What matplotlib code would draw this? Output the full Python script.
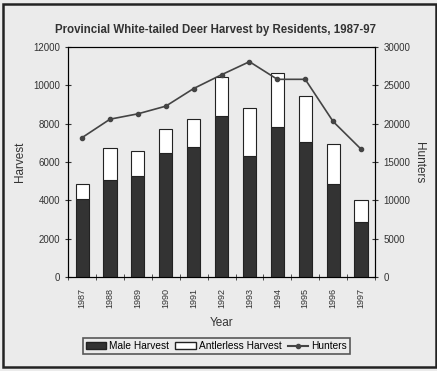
import numpy as np
import matplotlib
matplotlib.use('Agg')
import matplotlib.pyplot as plt
from matplotlib.patches import Rectangle
from matplotlib.lines import Line2D

years = ['1987', '1988', '1989', '1990', '1991', '1992', '1993', '1994', '1995', '1996', '1997']
male = [4070, 5060, 5290, 6470, 6800, 8420, 6310, 7840, 7040, 4870, 2890]
total = [4850, 6730, 6570, 7740, 8230, 10450, 8830, 10660, 9440, 6940, 4050]
hunters = [18200, 20600, 21300, 22300, 24600, 26400, 28100, 25800, 25800, 20300, 16700]
antlerless = [t - m for t, m in zip(total, male)]

plt.rcParams['font.family'] = ['Liberation Sans', 'DejaVu Sans']

fig = plt.figure(figsize=(4.37, 3.71), dpi=100)
fig.patch.set_facecolor('#ebebeb')

# outer frame
fig.add_artist(Rectangle((0.008, 0.01), 0.99, 0.98, transform=fig.transFigure,
                         fill=False, edgecolor='#222222', linewidth=1.8))

ax = fig.add_axes([0.156, 0.253, 0.702, 0.62])
ax.set_facecolor('#ebebeb')
x = np.arange(len(years))
w = 0.47
ax.bar(x, male, w, color='#333333', edgecolor='#222222', linewidth=0.8)
ax.bar(x, antlerless, w, bottom=male, color='white', edgecolor='#222222', linewidth=0.8)

ax.set_xlim(-0.5, len(years) - 0.5)
ax.set_ylim(0, 12000)
ax.set_yticks(range(0, 12001, 2000))
ax.set_xticks(x)
ax.set_xticklabels(years, rotation=90, fontsize=6.5, color='#333333')
ax.set_xticks(np.arange(-0.5, len(years), 1), minor=True)
ax.tick_params(axis='x', which='major', length=0, pad=8)
ax.tick_params(axis='x', which='minor', length=5, direction='inout', color='#333333')
ax.tick_params(axis='y', direction='inout', length=5, labelsize=7, colors='#333333')
ax.set_ylabel('Harvest', fontsize=8.5, color='#333333', labelpad=5)
ax.set_xlabel('Year', fontsize=8.5, color='#333333', labelpad=6)
for s in ax.spines.values():
    s.set_color('#333333')

ax2 = ax.twinx()
ax2.plot(x, hunters, color='#444444', marker='o', markersize=3, linewidth=1.2)
ax2.set_ylim(0, 30000)
ax2.set_yticks(range(0, 30001, 5000))
ax2.tick_params(axis='y', direction='inout', length=5, labelsize=7, colors='#333333')
ax2.set_ylabel('Hunters', fontsize=8.5, color='#333333', rotation=270, labelpad=11)

fig.text(0.492, 0.912, 'Provincial White-tailed Deer Harvest by Residents, 1987-97',
         ha='center', fontsize=8.3, fontweight='bold', color='#333333')

handles = [Rectangle((0, 0), 1, 1, facecolor='#333333', edgecolor='#222222'),
           Rectangle((0, 0), 1, 1, facecolor='white', edgecolor='#222222'),
           Line2D([], [], color='#444444', marker='o', markersize=3)]
leg = fig.legend(handles, ['Male Harvest', 'Antlerless Harvest', 'Hunters'],
                 loc='center', bbox_to_anchor=(0.495, 0.067), ncol=3, fontsize=7.3,
                 frameon=True, fancybox=False, edgecolor='#333333', facecolor='#ebebeb',
                 handlelength=2, handletextpad=0.3, columnspacing=0.6, borderpad=0.3)
leg.get_frame().set_linewidth(1.2)

fig.savefig('out.png', dpi=100, facecolor=fig.get_facecolor())
